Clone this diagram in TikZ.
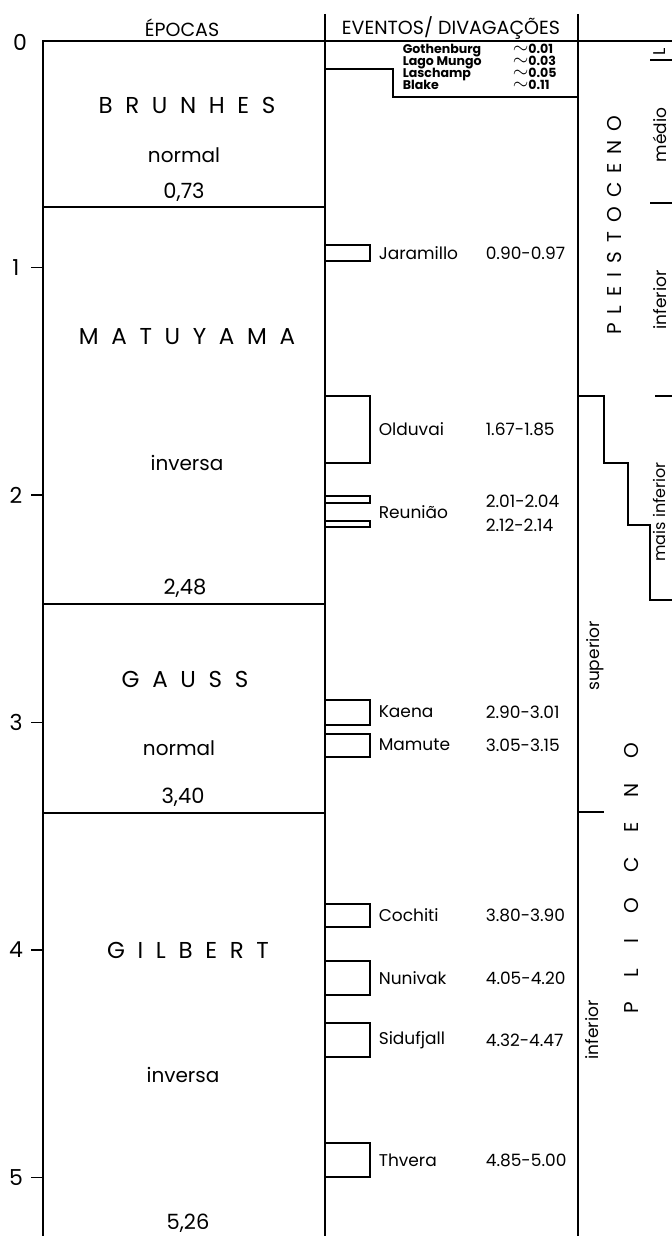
\documentclass[tikz,border=0pt]{standalone}
\usepackage{fontspec}
\setmainfont{Poppins}
\usepackage{tikz}
\usetikzlibrary{positioning}

\begin{document}
\begin{tikzpicture}[
  x=0.5pt, y=-0.5pt,
  line width=0.8pt,
  cab/.style={font=\fontsize{9.5}{11}\selectfont, inner sep=0pt},
  epoca/.style={font=\fontsize{11.5}{13}\selectfont\addfontfeature{LetterSpace=55}, inner sep=0pt},
  pol/.style={font=\fontsize{10}{12}\selectfont, inner sep=0pt},
  idade/.style={font=\fontsize{10.5}{12}\selectfont, inner sep=0pt},
  escala/.style={font=\fontsize{11}{13}\selectfont, inner sep=0pt},
  evento/.style={font=\fontsize{8.5}{10}\selectfont, anchor=west, inner sep=0pt},
  curto/.style={font=\fontsize{6.3}{7}\selectfont\bfseries, anchor=west, inner sep=0pt, text height=4.4pt, text depth=0.6pt},
  serie/.style={rotate=90, inner sep=0pt, font=\fontsize{10}{12}\selectfont},
  subserie/.style={rotate=90, inner sep=0pt, font=\fontsize{8.5}{10}\selectfont},
  caixa/.style={line width=0.7pt}
]
\useasboundingbox (0,0) rectangle (672,1236);

% colunas
\draw (43,1236) -- (43,41) -- (672,41);
\draw (325,14) -- (325,1236);
\draw (578,14) -- (578,1236);
\foreach \y in {207,604,813} \draw (43,\y) -- (325,\y);

% escala de idade
\node[escala] (t0) at (20,42) {0};
\foreach \t in {1,...,5} {
  \draw (31,40+227.5*\t) -- (43,40+227.5*\t);
  \node[escala] (t\t) at (16,40+227.5*\t) {\t};
}

% cabecalhos
\node[cab] (hepocas) at (182,28) {ÉPOCAS};
\node[cab] (heventos) at (451,28) {EVENTOS/ DIVAGAÇÕES};

% epocas
\node[epoca] (brunhes) at (187,105) {BRUNHES};
\node[pol] (brunhesPol) at (184,155) {normal};
\node[idade] (a073) at (184,192) {0,73};
\node[epoca] (matuyama) at (187,337) {MATUYAMA};
\node[pol] (matuyamaPol) at (187,463) {inversa};
\node[idade] (a248) at (185,588) {2,48};
\node[epoca] (gauss) at (185,679) {GAUSS};
\node[pol] (gaussPol) at (179,748) {normal};
\node[idade] (a340) at (183,797) {3,40};
\node[epoca] (gilbert) at (188,950) {GILBERT};
\node[pol] (gilbertPol) at (183,1075) {inversa};
\node[idade] (a526) at (188,1223) {5,26};

% eventos recentes
\draw[caixa] (325,69) -| (393,97) -- (578,97);
\foreach \nome/\y/\val [count=\i] in {Gothenburg/50/0.01, Lago Mungo/62/0.03, Laschamp/74/0.05, Blake/86/0.11} {
  \node[curto] (re\i) at (402,\y) {\nome};
  \node[curto] (rv\i) at (512,\y) {\normalsize$\sim$\fontsize{6.3}{7}\selectfont\val};
}

% divagacoes
\foreach \a/\b in {245/261, 396/463, 496/503, 521/527, 700/725, 734/757, 904/927, 961/995, 1023/1057, 1143/1177}
  \draw[caixa] (325,\a) -| (370,\b) -- (325,\b);
\foreach \nome/\y [count=\i] in {Jaramillo/253, Olduvai/429, Reunião/512, Kaena/712, Mamute/745, Cochiti/915, Nunivak/978, Sidufjall/1040, Thvera/1160}
  \node[evento] (ev\i) at (378,\y) {\nome};
\foreach \faixa/\y [count=\i] in {0.90-0.97/253, 1.67-1.85/429, 2.01-2.04/501, 2.12-2.14/525, 2.90-3.01/712, 3.05-3.15/745, 3.80-3.90/915, 4.05-4.20/978, 4.32-4.47/1040, 4.85-5.00/1160}
  \node[evento] (fx\i) at (485,\y) {\faixa};

% series e subdivisoes
\draw (650,60) -- (672,60);
\draw (650,203) -- (672,203);
\draw (655,396) -- (672,396);
\draw (578,812) -- (604,812);
\draw (578,396) -| (604,463) -| (628,525) -| (650,600) -- (672,600);

\node[serie, font=\fontsize{10}{12}\selectfont\addfontfeature{LetterSpace=45}] (pleisto) at (615,225) {PLEISTOCENO};
\node[serie, font=\fontsize{10}{12}\selectfont\addfontfeature{LetterSpace=125}] (plio) at (632,878) {PLIOCENO};
\node[subserie] (supL) at (660,52) {L};
\node[subserie] (medio) at (660,135) {médio};
\node[subserie] (infPleisto) at (660,300) {inferior};
\node[subserie, font=\fontsize{8}{9}\selectfont] (maisInf) at (659,512) {mais inferior};
\node[subserie] (supPlio) at (595,656) {superior};
\node[subserie] (infPlio) at (592,1030) {inferior};
\end{tikzpicture}
\end{document}
